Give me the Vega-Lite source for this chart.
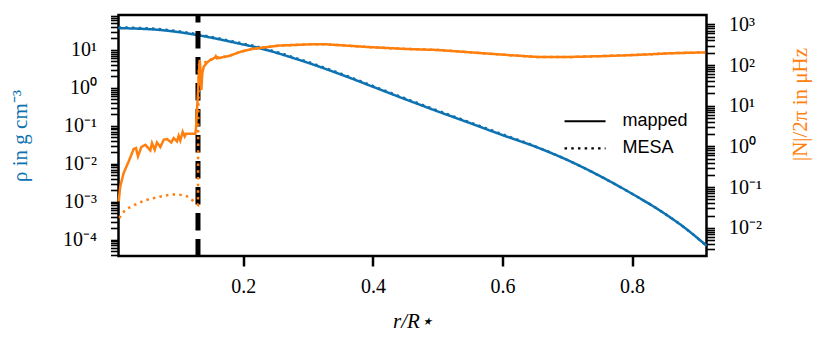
{
  "$schema": "https://vega.github.io/schema/vega-lite/v6.json",
  "width": 588,
  "height": 241,
  "autosize": {"type": "none"},
  "padding": {"left": 118.5, "top": 15, "right": 124.5, "bottom": 86},
  "config": {
    "view": {"stroke": "black", "strokeWidth": 2.5},
    "axis": {"grid": false, "domain": false, "labelFont": "Liberation Serif", "titleFont": "Liberation Serif", "labelFontSize": 20, "titleFontSize": 21, "labelColor": "black", "tickColor": "black", "titleFontWeight": "normal"}
  },
  "datasets": {
    "rho": [
      {"r": 0.0073, "v": 37.3, "model": "mapped"}, {"r": 0.03, "v": 36.7, "model": "mapped"}, {"r": 0.05, "v": 35.5, "model": "mapped"}, {"r": 0.075, "v": 33.1, "model": "mapped"}, {"r": 0.10, "v": 29.5, "model": "mapped"}, {"r": 0.13, "v": 24.5, "model": "mapped"}, {"r": 0.16, "v": 19.5, "model": "mapped"}, {"r": 0.19, "v": 15.1, "model": "mapped"}, {"r": 0.22, "v": 11.7, "model": "mapped"}, {"r": 0.25, "v": 8.51, "model": "mapped"}, {"r": 0.28, "v": 5.89, "model": "mapped"}, {"r": 0.30, "v": 4.57, "model": "mapped"}, {"r": 0.33, "v": 3.02, "model": "mapped"}, {"r": 0.36, "v": 1.96, "model": "mapped"}, {"r": 0.40, "v": 1.07, "model": "mapped"}, {"r": 0.45, "v": 0.501, "model": "mapped"}, {"r": 0.50, "v": 0.240, "model": "mapped"}, {"r": 0.55, "v": 0.1175, "model": "mapped"}, {"r": 0.60, "v": 0.0569, "model": "mapped"}, {"r": 0.65, "v": 0.0285, "model": "mapped"}, {"r": 0.70, "v": 0.01259, "model": "mapped"}, {"r": 0.75, "v": 0.00479, "model": "mapped"}, {"r": 0.80, "v": 0.00162, "model": "mapped"}, {"r": 0.85, "v": 0.00049, "model": "mapped"}, {"r": 0.88, "v": 0.000214, "model": "mapped"}, {"r": 0.915, "v": 0.0000692, "model": "mapped"},
      {"r": 0.0073, "v": 39.2, "model": "MESA"}, {"r": 0.03, "v": 38.5, "model": "MESA"}, {"r": 0.05, "v": 37.3, "model": "MESA"}, {"r": 0.075, "v": 34.8, "model": "MESA"}, {"r": 0.10, "v": 31.0, "model": "MESA"}, {"r": 0.13, "v": 25.7, "model": "MESA"}, {"r": 0.16, "v": 20.5, "model": "MESA"}, {"r": 0.19, "v": 15.9, "model": "MESA"}, {"r": 0.22, "v": 12.3, "model": "MESA"}, {"r": 0.25, "v": 8.94, "model": "MESA"}, {"r": 0.28, "v": 6.18, "model": "MESA"}, {"r": 0.30, "v": 4.80, "model": "MESA"}, {"r": 0.33, "v": 3.17, "model": "MESA"}, {"r": 0.36, "v": 2.06, "model": "MESA"}, {"r": 0.40, "v": 1.12, "model": "MESA"}, {"r": 0.45, "v": 0.526, "model": "MESA"}, {"r": 0.50, "v": 0.252, "model": "MESA"}, {"r": 0.55, "v": 0.123, "model": "MESA"}, {"r": 0.60, "v": 0.0597, "model": "MESA"}, {"r": 0.65, "v": 0.0291, "model": "MESA"}, {"r": 0.70, "v": 0.01259, "model": "MESA"}, {"r": 0.75, "v": 0.00479, "model": "MESA"}, {"r": 0.80, "v": 0.00162, "model": "MESA"}, {"r": 0.85, "v": 0.00049, "model": "MESA"}, {"r": 0.88, "v": 0.000214, "model": "MESA"}, {"r": 0.915, "v": 0.0000692, "model": "MESA"}
    ],
    "core": [{"r": 0.130}],
    "N": [
      {"r": 0.0076, "v": 0.0449, "model": "mapped"}, {"r": 0.0100, "v": 0.1047, "model": "mapped"}, {"r": 0.0153, "v": 0.2228, "model": "mapped"}, {"r": 0.0230, "v": 0.4285, "model": "mapped"}, {"r": 0.0307, "v": 0.863, "model": "mapped"}, {"r": 0.0343, "v": 0.912, "model": "mapped"}, {"r": 0.0374, "v": 0.569, "model": "mapped"}, {"r": 0.0425, "v": 0.966, "model": "mapped"}, {"r": 0.0487, "v": 1.102, "model": "mapped"}, {"r": 0.0564, "v": 0.798, "model": "mapped"}, {"r": 0.0590, "v": 1.211, "model": "mapped"}, {"r": 0.0632, "v": 0.830, "model": "mapped"}, {"r": 0.0667, "v": 1.253, "model": "mapped"}, {"r": 0.0719, "v": 0.966, "model": "mapped"}, {"r": 0.0771, "v": 1.459, "model": "mapped"}, {"r": 0.0822, "v": 1.517, "model": "mapped"}, {"r": 0.0888, "v": 1.253, "model": "mapped"}, {"r": 0.0925, "v": 1.607, "model": "mapped"}, {"r": 0.0976, "v": 1.327, "model": "mapped"}, {"r": 0.1002, "v": 1.828, "model": "mapped"}, {"r": 0.1027, "v": 1.403, "model": "mapped"}, {"r": 0.1064, "v": 2.291, "model": "mapped"}, {"r": 0.1095, "v": 1.758, "model": "mapped"}, {"r": 0.1115, "v": 2.046, "model": "mapped"}, {"r": 0.1259, "v": 2.046, "model": "mapped"}, {"r": 0.1270, "v": 2.825, "model": "mapped"}, {"r": 0.1285, "v": 7.94, "model": "mapped"}, {"r": 0.1300, "v": 20.4, "model": "mapped"}, {"r": 0.1311, "v": 52.0, "model": "mapped"}, {"r": 0.1327, "v": 133.4, "model": "mapped"}, {"r": 0.1342, "v": 63.1, "model": "mapped"}, {"r": 0.1352, "v": 24.5, "model": "mapped"}, {"r": 0.1367, "v": 63.1, "model": "mapped"}, {"r": 0.1389, "v": 91.2, "model": "mapped"}, {"r": 0.1440, "v": 114.8, "model": "mapped"}, {"r": 0.1490, "v": 133.4, "model": "mapped"}, {"r": 0.1558, "v": 150.0, "model": "mapped"}, {"r": 0.1575, "v": 165.0, "model": "mapped"}, {"r": 0.1595, "v": 145.0, "model": "mapped"}, {"r": 0.1775, "v": 166.0, "model": "mapped"}, {"r": 0.1950, "v": 209.0, "model": "mapped"}, {"r": 0.2135, "v": 248.3, "model": "mapped"}, {"r": 0.2548, "v": 299.2, "model": "mapped"}, {"r": 0.3060, "v": 323.6, "model": "mapped"}, {"r": 0.3260, "v": 323.6, "model": "mapped"}, {"r": 0.3980, "v": 272.9, "model": "mapped"}, {"r": 0.4500, "v": 248.0, "model": "mapped"}, {"r": 0.5000, "v": 234.0, "model": "mapped"}, {"r": 0.5500, "v": 205.0, "model": "mapped"}, {"r": 0.6040, "v": 177.8, "model": "mapped"}, {"r": 0.6550, "v": 157.0, "model": "mapped"}, {"r": 0.7070, "v": 158.0, "model": "mapped"}, {"r": 0.7590, "v": 166.0, "model": "mapped"}, {"r": 0.8100, "v": 177.8, "model": "mapped"}, {"r": 0.8620, "v": 195.0, "model": "mapped"}, {"r": 0.9130, "v": 204.2, "model": "mapped"},
      {"r": 0.0085, "v": 0.01758, "model": "MESA"}, {"r": 0.0178, "v": 0.0282, "model": "MESA"}, {"r": 0.0332, "v": 0.0372, "model": "MESA"}, {"r": 0.0487, "v": 0.0479, "model": "MESA"}, {"r": 0.0693, "v": 0.0575, "model": "MESA"}, {"r": 0.0873, "v": 0.0661, "model": "MESA"}, {"r": 0.1002, "v": 0.0661, "model": "MESA"}, {"r": 0.1130, "v": 0.0596, "model": "MESA"}, {"r": 0.1234, "v": 0.0449, "model": "MESA"}, {"r": 0.1300, "v": 0.0372, "model": "MESA"}, {"r": 0.1303, "v": 2.0, "model": "MESA"}, {"r": 0.1308, "v": 20.0, "model": "MESA"}, {"r": 0.1315, "v": 100.0, "model": "MESA"}, {"r": 0.1340, "v": 110.0, "model": "MESA"}, {"r": 0.1440, "v": 120.0, "model": "MESA"}, {"r": 0.1558, "v": 150.0, "model": "MESA"}, {"r": 0.1775, "v": 166.0, "model": "MESA"}, {"r": 0.1950, "v": 209.0, "model": "MESA"}, {"r": 0.2135, "v": 248.3, "model": "MESA"}, {"r": 0.2548, "v": 299.2, "model": "MESA"}, {"r": 0.3060, "v": 323.6, "model": "MESA"}, {"r": 0.3260, "v": 323.6, "model": "MESA"}, {"r": 0.3980, "v": 272.9, "model": "MESA"}, {"r": 0.4500, "v": 248.0, "model": "MESA"}, {"r": 0.5000, "v": 234.0, "model": "MESA"}, {"r": 0.5500, "v": 205.0, "model": "MESA"}, {"r": 0.6040, "v": 177.8, "model": "MESA"}, {"r": 0.6550, "v": 157.0, "model": "MESA"}, {"r": 0.7070, "v": 158.0, "model": "MESA"}, {"r": 0.7590, "v": 166.0, "model": "MESA"}, {"r": 0.8100, "v": 177.8, "model": "MESA"}, {"r": 0.8620, "v": 195.0, "model": "MESA"}, {"r": 0.9130, "v": 204.2, "model": "MESA"}
    ]
  },
  "layer": [
    {
      "data": {"name": "rho"},
      "mark": {"type": "line", "color": "#0e72b1", "strokeWidth": 2.5, "interpolate": "monotone"},
      "encoding": {
        "x": {
          "field": "r", "type": "quantitative",
          "scale": {"domain": [0.0073, 0.915], "nice": false, "zero": false},
          "axis": {"values": [0.2, 0.4, 0.6, 0.8], "format": ".1f", "title": "r/R⋆", "titleFontStyle": "italic", "tickSize": 10, "tickWidth": 2.5, "labelPadding": 10, "titleY": 65.5, "titleBaseline": "middle"}
        },
        "y": {
          "field": "v", "type": "quantitative",
          "scale": {"type": "log", "domain": [0.000037, 83.2], "nice": false},
          "axis": {
            "orient": "left",
            "tickCount": 500,
            "values": [0.00004, 0.00005, 0.00006, 0.00007, 0.00008, 0.00009, 0.0001, 0.0002, 0.0003, 0.0004, 0.0005, 0.0006, 0.0007, 0.0008, 0.0009, 0.001, 0.002, 0.003, 0.004, 0.005, 0.006, 0.007, 0.008, 0.009, 0.01, 0.02, 0.03, 0.04, 0.05, 0.06, 0.07, 0.08, 0.09, 0.1, 0.2, 0.3, 0.4, 0.5, 0.6, 0.7, 0.8, 0.9, 1, 2, 3, 4, 5, 6, 7, 8, 9, 10, 20, 30, 40, 50, 60, 70, 80],
            "labelExpr": "abs(log(datum.value)/LN10 - round(log(datum.value)/LN10)) < 0.001 ? '10' + replace(replace(replace(replace(replace(replace(replace(replace(toString(round(log(datum.value)/LN10)), '-', '⁻'), '0', '⁰'), '1', '¹'), '2', '²'), '3', '³'), '4', '⁴'), '5', '⁵'), '6', '⁶') : ''",
            "labelOverlap": false,
            "labelBaseline": "middle",
            "tickSize": 8,
            "tickWidth": 1.6,
            "labelPadding": 14,
            "title": "ρ in g cm⁻³",
            "titleColor": "#0e72b1",
            "titleAngle": 270,
            "titleX": -98,
            "titleY": 120.5,
            "titleBaseline": "middle",
            "titleAlign": "center"
          }
        },
        "strokeDash": {
          "field": "model", "type": "nominal",
          "scale": {"domain": ["mapped", "MESA"], "range": [[1, 0], [2.5, 4.2]]},
          "legend": {
            "title": null, "orient": "none", "legendX": 444.8, "legendY": 94.75, "padding": 0,
            "symbolType": "M-1,0H3", "symbolSize": 420, "symbolStrokeColor": "black", "symbolStrokeWidth": 2.2,
            "labelFont": "Liberation Sans", "labelFontSize": 18, "labelColor": "black", "labelOffset": 36.2, "rowPadding": 6.2,
            "encode": {"symbols": {"update": {"stroke": {"value": "black"}}}}
          }
        }
      }
    },
    {
      "data": {"name": "core"},
      "mark": {"type": "rule", "color": "black", "strokeWidth": 5, "strokeDash": [17.5, 8.5], "strokeDashOffset": 10},
      "encoding": {"x": {"field": "r", "type": "quantitative"}}
    },
    {
      "data": {"name": "N"},
      "mark": {"type": "line", "color": "#ff7f0e", "strokeWidth": 2.5, "interpolate": "linear"},
      "encoding": {
        "x": {"field": "r", "type": "quantitative"},
        "y": {
          "field": "v", "type": "quantitative",
          "scale": {"type": "log", "domain": [0.00204, 1690], "nice": false},
          "axis": {
            "orient": "right",
            "tickCount": 500,
            "values": [0.003, 0.004, 0.005, 0.006, 0.007, 0.008, 0.009, 0.01, 0.02, 0.03, 0.04, 0.05, 0.06, 0.07, 0.08, 0.09, 0.1, 0.2, 0.3, 0.4, 0.5, 0.6, 0.7, 0.8, 0.9, 1, 2, 3, 4, 5, 6, 7, 8, 9, 10, 20, 30, 40, 50, 60, 70, 80, 90, 100, 200, 300, 400, 500, 600, 700, 800, 900, 1000],
            "labelExpr": "abs(log(datum.value)/LN10 - round(log(datum.value)/LN10)) < 0.001 ? '10' + replace(replace(replace(replace(replace(replace(replace(replace(toString(round(log(datum.value)/LN10)), '-', '⁻'), '0', '⁰'), '1', '¹'), '2', '²'), '3', '³'), '4', '⁴'), '5', '⁵'), '6', '⁶') : ''",
            "labelOverlap": false,
            "labelBaseline": "middle",
            "tickSize": 8,
            "tickWidth": 1.6,
            "labelPadding": 14,
            "title": "|N|/2π in μHz",
            "titleColor": "#ff7f0e",
            "titleAngle": 270,
            "titleX": 93.5,
            "titleY": 89,
            "titleAlign": "center",
            "titleBaseline": "middle"
          }
        },
        "strokeDash": {"field": "model", "type": "nominal"}
      }
    }
  ],
  "resolve": {"scale": {"y": "independent"}}
}
